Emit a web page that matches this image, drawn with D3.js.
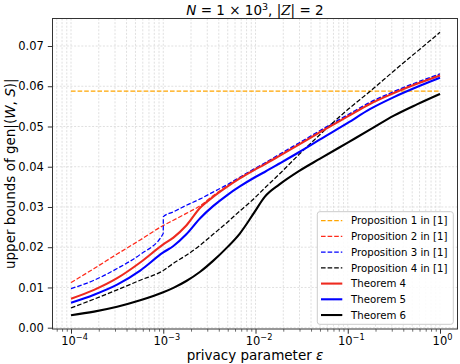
<!DOCTYPE html>
<html><head><meta charset="utf-8">
<script src="https://cdn.jsdelivr.net/npm/d3@7"></script>
<style>
body{margin:0;background:#fff}
svg{display:block}
text{font-family:"DejaVu Sans",sans-serif;fill:#000}
</style>
</head><body>
<svg id="c" width="460" height="364"></svg>
<script>
// ---- data (log10 of epsilon, bound values) ----
const logEps = [-4, -3.75, -3.5, -3.25, -3, -2.89, -2.75, -2.6, -2.46, -2.31, -2.17, -2.02, -1.9, -1.74, -1.53, -1.3, -1, -0.76, -0.5, -0.25, 0];
const prop1LogEps = [-4, 0];
const prop1 = [0.0588, 0.0588];
const prop2 = [0.0112, 0.0147, 0.0183, 0.0218, 0.0254, 0.0267, 0.0284, 0.0303, 0.0328, 0.0352, 0.0373, 0.0393, 0.0408, 0.0429, 0.0457, 0.0488, 0.0527, 0.0558, 0.0585, 0.0608, 0.0629];
const prop3LogEps = [-4, -3.75, -3.5, -3.25, -3, -2.999, -2.89, -2.75, -2.6, -2.46, -2.31, -2.17, -2.02, -1.9, -1.74, -1.53, -1.3, -1, -0.76, -0.5, -0.25, 0];
const prop3 = [0.0097, 0.0118, 0.0147, 0.0182, 0.0234, 0.0276, 0.0288, 0.0304, 0.0320, 0.0337, 0.0355, 0.0374, 0.0394, 0.0409, 0.0431, 0.0459, 0.0490, 0.0529, 0.0560, 0.0587, 0.0610, 0.0631];
const prop4 = [0.0049, 0.0071, 0.0094, 0.0118, 0.0142, 0.0160, 0.0180, 0.0205, 0.0232, 0.0261, 0.0290, 0.0320, 0.0347, 0.0382, 0.0430, 0.0480, 0.0542, 0.0587, 0.0638, 0.0686, 0.0734];
const thm4 = [0.0072, 0.0094, 0.0123, 0.0162, 0.0207, 0.0224, 0.0254, 0.0298, 0.0325, 0.0350, 0.0371, 0.0391, 0.0406, 0.0427, 0.0455, 0.0486, 0.0525, 0.0556, 0.0583, 0.0606, 0.0627];
const thm5 = [0.0062, 0.0082, 0.0107, 0.0142, 0.0187, 0.0203, 0.0232, 0.0272, 0.0302, 0.0329, 0.0351, 0.0372, 0.0387, 0.0408, 0.0436, 0.0468, 0.0509, 0.0543, 0.0573, 0.0598, 0.0621];
const thm6 = [0.0031, 0.0040, 0.0052, 0.0068, 0.0088, 0.0099, 0.0116, 0.0139, 0.0166, 0.0199, 0.0234, 0.0284, 0.0325, 0.0356, 0.0389, 0.0420, 0.0460, 0.0492, 0.0527, 0.0555, 0.0581];
const yTicks = [0, 0.01, 0.02, 0.03, 0.04, 0.05, 0.06, 0.07];
const xTickExps = [-4, -3, -2, -1, 0];
const legendLabels = ["Proposition 1 in [1]", "Proposition 2 in [1]", "Proposition 3 in [1]", "Proposition 4 in [1]", "Theorem 4", "Theorem 5", "Theorem 6"];

const series = [
  {name: legendLabels[0], xs: prop1LogEps, ys: prop1, color: "#ffa500", dash: true},
  {name: legendLabels[1], xs: logEps, ys: prop2, color: "#ff2a1a", dash: true},
  {name: legendLabels[2], xs: prop3LogEps, ys: prop3, color: "#0000ff", dash: true},
  {name: legendLabels[3], xs: logEps, ys: prop4, color: "#000000", dash: true},
  {name: legendLabels[4], xs: logEps, ys: thm4, color: "#ee2a1f", dash: false},
  {name: legendLabels[5], xs: logEps, ys: thm5, color: "#0000ff", dash: false},
  {name: legendLabels[6], xs: logEps, ys: thm6, color: "#000000", dash: false}
];

// ---- layout ----
const L = 52.5, R = 457.5, T = 18.5, B = 329;
const x = d3.scaleLog().domain([1e-4, 1]).range([71, 440]);
const y = d3.scaleLinear().domain([0, 0.07]).range([327.7, 46]);
const svg = d3.select("#c");

svg.append("defs").append("clipPath").attr("id", "clip")
  .append("rect").attr("x", L).attr("y", T).attr("width", R - L).attr("height", B - T);

// grid
const xMin = x.invert(L), xMax = x.invert(R);
const majors = xTickExps.map(e => Math.pow(10, e));
const minors = [];
for (let e = -5; e <= 0; e++) for (let k = 2; k <= 9; k++) {
  const v = k * Math.pow(10, e);
  if (v >= xMin && v <= xMax) minors.push(v);
}
const grid = svg.append("g").attr("stroke", "#d8d8d8").attr("stroke-width", 0.8).attr("stroke-dasharray", "2,1.6");
majors.concat(minors).forEach(v => {
  grid.append("line").attr("x1", x(v)).attr("x2", x(v)).attr("y1", T).attr("y2", B);
});
yTicks.forEach(v => {
  grid.append("line").attr("x1", L).attr("x2", R).attr("y1", y(v)).attr("y2", y(v));
});

// lines
const line = d3.line().x(d => x(Math.pow(10, d[0]))).y(d => y(d[1])).curve(d3.curveMonotoneX);
const lg = svg.append("g").attr("clip-path", "url(#clip)");
series.forEach(s => {
  const pts = s.xs.map((v, i) => [v, s.ys[i]]);
  lg.append("path").attr("d", line(pts)).attr("fill", "none")
    .attr("stroke", s.color)
    .attr("stroke-width", s.dash ? 1.25 : 2.1)
    .attr("stroke-dasharray", s.dash ? "4.6,2" : null)
    .attr("stroke-linejoin", "round");
});

// frame
svg.append("rect").attr("x", L).attr("y", T).attr("width", R - L).attr("height", B - T)
  .attr("fill", "none").attr("stroke", "#333").attr("stroke-width", 1);

// y axis
const yAxis = svg.append("g").attr("transform", `translate(${L},0)`)
  .call(d3.axisLeft(y).tickValues(yTicks).tickFormat(d3.format(".2f")).tickSize(4.7).tickPadding(4));
yAxis.select(".domain").remove();
yAxis.selectAll("text").attr("font-size", 11.5).attr("font-family", "DejaVu Sans").attr("fill", "#000");
yAxis.selectAll("line").attr("stroke", "#333");

// x axis
const xAxis = svg.append("g").attr("transform", `translate(0,${B})`)
  .call(d3.axisBottom(x).tickValues(majors).tickFormat(() => "").tickSize(4.7));
xAxis.select(".domain").remove();
xAxis.selectAll("line").attr("stroke", "#333");
const xMinor = svg.append("g").attr("transform", `translate(0,${B})`)
  .call(d3.axisBottom(x).tickValues(minors).tickFormat(() => "").tickSize(2.7));
xMinor.select(".domain").remove();
xMinor.selectAll("line").attr("stroke", "#333").attr("stroke-width", 0.7);

xTickExps.forEach(e => {
  const t = svg.append("text").attr("x", x(Math.pow(10, e)) + (e < 0 ? 3.5 : 2.5)).attr("y", 344.5)
    .attr("text-anchor", "middle").attr("font-size", 11.5);
  t.append("tspan").text("10");
  t.append("tspan").attr("dy", -5).attr("font-size", 8.2).text(e === 0 ? "0" : "\u2212" + Math.abs(e));
});

// axis labels
const xl = svg.append("text").attr("x", (L + R) / 2).attr("y", 359.5).attr("text-anchor", "middle").attr("font-size", 13.5);
xl.append("tspan").text("privacy parameter ");
xl.append("tspan").attr("font-style", "italic").text("\u03b5");

const yl = svg.append("text").attr("transform", `translate(14.5,${(T + B) / 2}) rotate(-90)`)
  .attr("text-anchor", "middle").attr("font-size", 13.5);
yl.append("tspan").text("upper bounds of gen|(");
yl.append("tspan").attr("font-style", "italic").text("W");
yl.append("tspan").text(", ");
yl.append("tspan").attr("font-style", "italic").text("S");
yl.append("tspan").text(")|");

// title
const tt = svg.append("text").attr("x", (L + R) / 2).attr("y", 14.5).attr("text-anchor", "middle").attr("font-size", 13.5);
tt.append("tspan").attr("font-style", "italic").text("N");
tt.append("tspan").text(" = 1 \u00d7 10");
tt.append("tspan").attr("dy", -5).attr("font-size", 9.5).text("3");
tt.append("tspan").attr("dy", 5).text(",  |");
tt.append("tspan").attr("font-style", "italic").attr("font-family", "DejaVu Serif").text("Z");
tt.append("tspan").text("| = 2");

// legend
const lgX = 317.3, lgY = 211.7, lgW = 136, lgH = 112.6;
const leg = svg.append("g");
leg.append("rect").attr("x", lgX).attr("y", lgY).attr("width", lgW).attr("height", lgH)
  .attr("rx", 2.5).attr("fill", "#fff").attr("fill-opacity", 0.85).attr("stroke", "#cccccc").attr("stroke-width", 1);
series.forEach((s, i) => {
  const cy = 220.7 + i * 15.72;
  leg.append("line").attr("x1", 321).attr("x2", 342.3).attr("y1", cy).attr("y2", cy)
    .attr("stroke", s.color).attr("stroke-width", s.dash ? 1.25 : 2.1)
    .attr("stroke-dasharray", s.dash ? "4.6,2" : null);
  leg.append("text").attr("x", 351).attr("y", cy + 3.7).attr("font-size", 10.2).text(s.name);
});
</script>
</body></html>
